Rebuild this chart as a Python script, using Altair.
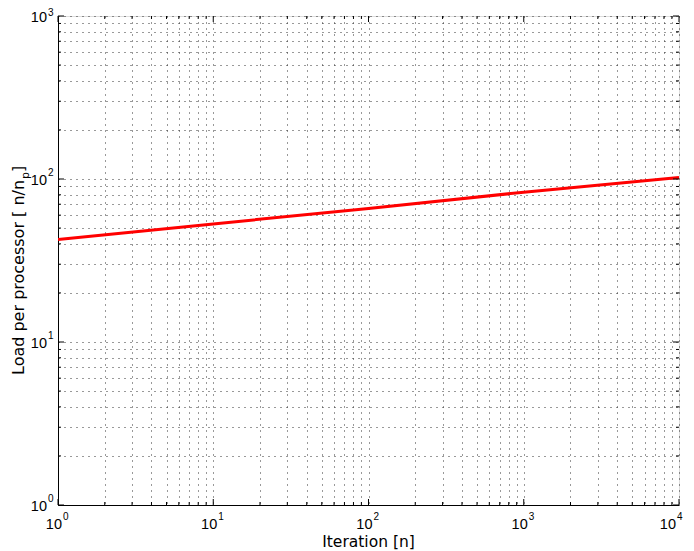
import altair as alt
import pandas as pd

# ---- data ----
iterations = [1, 10, 100, 1000, 10000]
load = [42.5, 53, 66, 83, 102]

x_major = [1, 10, 100, 1000, 10000]
x_exp = ["0", "1", "2", "3", "4"]
y_major = [1, 10, 100, 1000]
y_exp = ["0", "1", "2", "3"]
minor_mult = [2, 3, 4, 5, 6, 7, 8, 9]

x_title = "Iteration [n]"
y_title_main = "Load per processor [ n/n"
y_title_sub = "p"
y_title_end = "]"

x_minor = [m * d for d in x_major[:-1] for m in minor_mult]
y_minor = [m * d for d in y_major[:-1] for m in minor_mult]

W, H = 621, 489
FONT = "Liberation Sans"
TFONT = "DejaVu Sans"

xs = alt.Scale(type="log", domain=[1, 10000], nice=False)
ys = alt.Scale(type="log", domain=[1, 1000], nice=False)

line_df = pd.DataFrame({"x": iterations, "y": load})

grid_common = dict(grid=True, gridDash=[1, 5], gridColor="#333333", gridWidth=1,
                   labels=False, ticks=False, domain=True, domainColor="#000000",
                   domainWidth=1, title=None)

line = alt.Chart(line_df).mark_line(color="#ff0000", strokeWidth=3, clip=True).encode(
    x=alt.X("x:Q", scale=xs, axis=alt.Axis(values=sorted(x_major + x_minor), **grid_common)),
    y=alt.Y("y:Q", scale=ys, axis=alt.Axis(values=sorted(y_major + y_minor), **grid_common)),
)

def xticks(vals, length):
    df = pd.DataFrame({"v": vals})
    bottom = alt.Chart(df).mark_rule(color="#000000", strokeWidth=1).encode(
        x=alt.X("v:Q", scale=xs), y=alt.value(H), y2=alt.value(H - length))
    top = alt.Chart(df).mark_rule(color="#000000", strokeWidth=1).encode(
        x=alt.X("v:Q", scale=xs), y=alt.value(0), y2=alt.value(length))
    return [bottom, top]

def yticks(vals, length):
    df = pd.DataFrame({"v": vals})
    left = alt.Chart(df).mark_rule(color="#000000", strokeWidth=1).encode(
        y=alt.Y("v:Q", scale=ys), x=alt.value(0), x2=alt.value(length))
    right = alt.Chart(df).mark_rule(color="#000000", strokeWidth=1).encode(
        y=alt.Y("v:Q", scale=ys), x=alt.value(W), x2=alt.value(W - length))
    return [left, right]

ticks = xticks(x_major, 6) + xticks(x_minor, 3) + yticks(y_major, 6) + yticks(y_minor, 3)

# tick labels "10" with a raised exponent
xl_in = pd.DataFrame({"v": x_major[:-1], "e": x_exp[:-1], "b": ["10"] * (len(x_major) - 1)})
xl_last = pd.DataFrame({"v": x_major[-1:], "e": x_exp[-1:], "b": ["10"]})
yl_in = pd.DataFrame({"v": y_major[:-1], "e": y_exp[:-1], "b": ["10"] * (len(y_major) - 1)})
yl_top = pd.DataFrame({"v": y_major[-1:], "e": y_exp[-1:], "b": ["10"]})

def xlabels(df, dxb, dxe):
    base = alt.Chart(df).mark_text(font=FONT, fontSize=14.5, align="right", baseline="alphabetic",
                                   dx=dxb, color="#000000").encode(
        x=alt.X("v:Q", scale=xs), y=alt.value(H + 24), text="b:N")
    sup = alt.Chart(df).mark_text(font=FONT, fontSize=10, align="left", baseline="alphabetic",
                                  dx=dxe, color="#000000").encode(
        x=alt.X("v:Q", scale=xs), y=alt.value(H + 15), text="e:N")
    return [base, sup]

def ylabels(df, dyb, dye):
    base = alt.Chart(df).mark_text(font=FONT, fontSize=14.5, align="right", baseline="alphabetic",
                                   dy=dyb, color="#000000").encode(
        y=alt.Y("v:Q", scale=ys), x=alt.value(-11), text="b:N")
    sup = alt.Chart(df).mark_text(font=FONT, fontSize=10, align="left", baseline="alphabetic",
                                  dy=dye, color="#000000").encode(
        y=alt.Y("v:Q", scale=ys), x=alt.value(-10), text="e:N")
    return [base, sup]

labels = xlabels(xl_in, 4, 5) + xlabels(xl_last, -3, -2) + ylabels(yl_in, 6, -3) + ylabels(yl_top, 6, 0)

# axis titles
xt = alt.Chart(pd.DataFrame({"t": [x_title]})).mark_text(
    font=TFONT, fontSize=15.5, align="center", baseline="alphabetic", color="#000000").encode(
    x=alt.value(W / 2), y=alt.value(H + 42), text="t:N")

MAIN_LEN = 196
YB = -34
yt_main = alt.Chart(pd.DataFrame({"t": [y_title_main]})).mark_text(
    font=TFONT, fontSize=16, angle=270, align="left", baseline="alphabetic", color="#000000").encode(
    x=alt.value(YB), y=alt.value(359), text="t:N")
yt_sub = alt.Chart(pd.DataFrame({"t": [y_title_sub]})).mark_text(
    font=TFONT, fontSize=11, angle=270, align="left", baseline="alphabetic", color="#000000").encode(
    x=alt.value(YB + 5), y=alt.value(359 - MAIN_LEN), text="t:N")
yt_end = alt.Chart(pd.DataFrame({"t": [y_title_end]})).mark_text(
    font=TFONT, fontSize=16, angle=270, align="left", baseline="alphabetic", color="#000000").encode(
    x=alt.value(YB), y=alt.value(359 - MAIN_LEN - 7), text="t:N")

chart = alt.layer(line, *ticks, *labels, xt, yt_main, yt_sub, yt_end).properties(
    width=W, height=H,
    autosize=alt.AutoSizeParams(type="none"),
    padding={"left": 50, "top": 8, "right": 7, "bottom": 46},
).configure_view(stroke="#808080", strokeWidth=1.5).configure(background="white")

chart.save("out.html", embed_options={"renderer": "svg", "actions": False})
